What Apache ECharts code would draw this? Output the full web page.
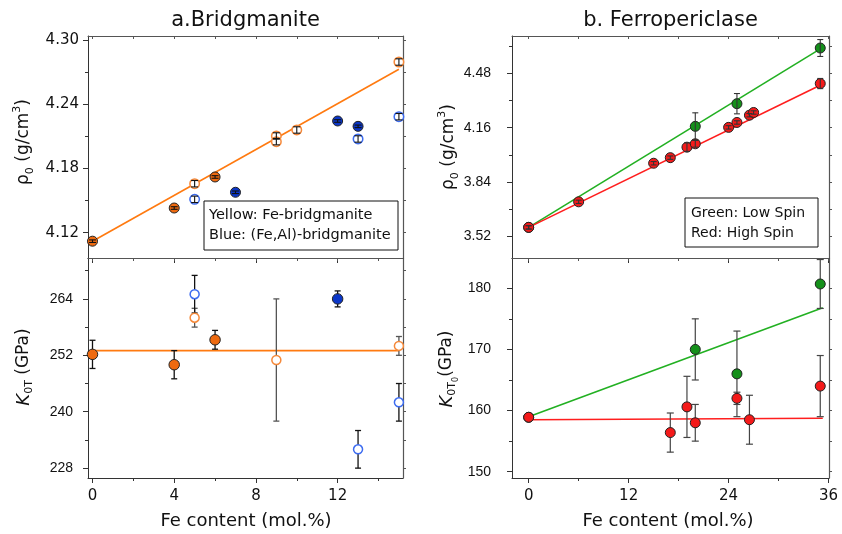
<!DOCTYPE html>
<html><head><meta charset="utf-8">
<script src="https://cdn.jsdelivr.net/npm/echarts@6/dist/echarts.min.js"></script>
<style>html,body{margin:0;padding:0;background:#fff}#c{width:842px;height:534px}</style>
</head><body><div id="c"></div>
<script>
// ================= DATA =================
// a. Bridgmanite : density rho0 (g/cm3)
const bdgFeFilledX = [0, 4, 6];
const bdgFeFilledRho = [4.112, 4.143, 4.172];
const bdgFeFilledRhoErr = [0.0012, 0.0012, 0.0012];
const bdgFeOpenX = [5, 9, 9, 10, 15];
const bdgFeOpenRho = [4.1657, 4.2103, 4.205, 4.2159, 4.2794];
const bdgFeOpenRhoErr = [0.003, 0.003, 0.003, 0.003, 0.003];
const bdgAlFilledX = [7, 12, 13];
const bdgAlFilledRho = [4.1577, 4.2243, 4.2193];
const bdgAlFilledRhoErr = [0.0012, 0.0012, 0.0012];
const bdgAlOpenX = [5, 13, 15];
const bdgAlOpenRho = [4.1511, 4.2075, 4.2283];
const bdgAlOpenRhoErr = [0.003, 0.003, 0.003];
const bdgRhoFit = [[0, 4.112], [15, 4.2726]];
// a. Bridgmanite : K0T (GPa)
const bdgKFeFilledX = [0, 4, 6];
const bdgKFeFilled = [252.2, 250.0, 255.3];
const bdgKFeFilledErr = [3, 3, 2];
const bdgKFeOpenX = [5, 9, 15];
const bdgKFeOpen = [260.0, 251.0, 254.0];
const bdgKFeOpenErr = [2, 13, 2];
const bdgKAlFilledX = [12];
const bdgKAlFilled = [264.0];
const bdgKAlFilledErr = [1.7];
const bdgKAlOpenX = [5, 13, 15];
const bdgKAlOpen = [265.0, 232.0, 242.0];
const bdgKAlOpenErr = [4, 4, 4];
const bdgKFit = [[0, 253], [15, 253]];
// b. Ferropericlase : density rho0 (g/cm3)
const fpRedX = [0, 6, 15, 17, 19, 20, 24, 25, 26.5, 27, 35];
const fpRedRho = [3.571, 3.722, 3.950, 3.983, 4.045, 4.065, 4.162, 4.191, 4.234, 4.250, 4.421];
const fpRedRhoErr = [0.01, 0.01, 0.01, 0.01, 0.025, 0.02, 0.01, 0.01, 0.01, 0.01, 0.03];
const fpGreenX = [0, 20, 25, 35];
const fpGreenRho = [3.571, 4.168, 4.302, 4.631];
const fpGreenRhoErr = [0.01, 0.08, 0.06, 0.05];
const fpGreenRhoFit = [[0, 3.571], [35.3, 4.635]];
const fpRedRhoFit = [[0, 3.571], [35.3, 4.418]];
// b. Ferropericlase : K0T0 (GPa)
const fpRedKX = [0, 17, 19, 20, 25, 26.5, 35];
const fpRedK = [158.9, 156.4, 160.6, 158.0, 162.0, 158.5, 164.0];
const fpRedKErr = [0.5, 3.2, 5, 3, 1, 4, 5];
const fpGreenKX = [0, 20, 25, 35];
const fpGreenK = [158.9, 170.0, 166.0, 180.7];
const fpGreenKErr = [0.5, 5, 7, 4];
const fpGreenKFit = [[0, 159.0], [35.3, 176.8]];
const fpRedKFit = [[0, 158.5], [35.3, 158.75]];
// tick values
const bdgXTicks = [0, 4, 8, 12];
const bdgXMinor = [2, 6, 10, 14];
const bdgRhoTicks = [4.12, 4.18, 4.24, 4.30];
const bdgRhoMinor = [4.15, 4.21, 4.27];
const bdgKTicks = [228, 240, 252, 264];
const bdgKMinor = [234, 246, 258, 270];
const fpXTicks = [0, 12, 24, 36];
const fpXMinor = [6, 18, 30];
const fpRhoTicks = [3.52, 3.84, 4.16, 4.48];
const fpRhoMinor = [3.68, 4.00, 4.32, 4.64];
const fpKTicks = [150, 160, 170, 180];
const fpKMinor = [155, 165, 175];
// texts
const titleA = 'a.Bridgmanite';
const titleB = 'b. Ferropericlase';
const xTitle = 'Fe content (mol.%)';
const legendA = ['Yellow: Fe-bridgmanite', 'Blue: (Fe,Al)-bridgmanite'];
const legendB = ['Green: Low Spin', 'Red: High Spin'];

// ================= BUILD =================
const xAxes = [], yAxes = [];
const AX = '#333', AX2 = '#555';
function addX(grid, min, max, majors, minors, showLabels) {
  const base = {type: 'value', gridIndex: grid, min: min, max: max, scale: true,
    splitLine: {show: false}, axisPointer: {show: false}};
  const idx = xAxes.length;
  xAxes.push(Object.assign({}, base, {position: 'bottom',
    axisLine: {show: true, onZero: false, lineStyle: {color: AX, width: 1}},
    axisTick: {show: true, customValues: majors, length: 5, lineStyle: {color: AX}},
    axisLabel: {show: showLabels, customValues: majors, margin: 11, fontSize: 15,
      fontFamily: 'DejaVu Sans', color: '#111'}}));
  xAxes.push(Object.assign({}, base, {position: 'bottom',
    axisLine: {show: false, onZero: false},
    axisTick: {show: true, customValues: minors, length: 3, lineStyle: {color: AX}},
    axisLabel: {show: false}}));
  xAxes.push(Object.assign({}, base, {position: 'top',
    axisLine: {show: true, onZero: false, lineStyle: {color: AX2, width: 1}},
    axisTick: {show: true, inside: true, customValues: majors.concat(minors), length: 3, lineStyle: {color: AX2}},
    axisLabel: {show: false}}));
  return idx;
}
function addY(grid, min, max, majors, minors, lab) {
  const base = {type: 'value', gridIndex: grid, min: min, max: max, scale: true,
    splitLine: {show: false}, axisPointer: {show: false}};
  const idx = yAxes.length;
  yAxes.push(Object.assign({}, base, {position: 'left',
    axisLine: {show: true, onZero: false, lineStyle: {color: AX, width: 1}},
    axisTick: {show: true, customValues: majors, length: 5, lineStyle: {color: AX}},
    axisLabel: {show: true, customValues: majors, margin: lab.margin, fontSize: lab.size,
      fontFamily: lab.font, color: '#111', formatter: lab.fmt}}));
  yAxes.push(Object.assign({}, base, {position: 'left',
    axisLine: {show: false, onZero: false},
    axisTick: {show: true, customValues: minors, length: 3, lineStyle: {color: AX}},
    axisLabel: {show: false}}));
  yAxes.push(Object.assign({}, base, {position: 'right',
    axisLine: {show: true, onZero: false, lineStyle: {color: AX2, width: 1.2}},
    axisTick: {show: true, customValues: majors.concat(minors), length: 3, lineStyle: {color: AX2}},
    axisLabel: {show: false}}));
  return idx;
}
const f2 = v => Number(v).toFixed(2);
const f0 = v => String(Math.round(v));

const x0 = addX(0, -0.22, 15.2, bdgXTicks, bdgXMinor, false);
const y0 = addY(0, 4.0963, 4.3037, bdgRhoTicks, bdgRhoMinor, {margin: 9, size: 15, font: 'DejaVu Sans', fmt: f2});
const x1 = addX(1, -0.22, 15.2, bdgXTicks, bdgXMinor, true);
const y1 = addY(1, 225.9, 272.7, bdgKTicks, bdgKMinor, {margin: 15, size: 14, font: 'Liberation Sans', fmt: f0});
const x2 = addX(2, -2.0, 36.05, fpXTicks, fpXMinor, false);
const y2 = addY(2, 3.39, 4.702, fpRhoTicks, fpRhoMinor, {margin: 21, size: 14, font: 'Liberation Sans', fmt: f2});
const x3 = addX(3, -2.0, 36.05, fpXTicks, fpXMinor, true);
const y3 = addY(3, 148.97, 184.95, fpKTicks, fpKMinor, {margin: 21, size: 14, font: 'Liberation Sans', fmt: f0});

const series = [];
function pts(xs, ys) { return xs.map((x, i) => [x, ys[i]]); }
function fitLine(data, xi, yi, color) {
  series.push({type: 'line', xAxisIndex: xi, yAxisIndex: yi, data: data, symbol: 'none', silent: true,
    z: 2, lineStyle: {color: color, width: 1.6}});
}
function scatter(xs, ys, xi, yi, fill, border, bw, size, z) {
  series.push({type: 'scatter', xAxisIndex: xi, yAxisIndex: yi, data: pts(xs, ys), symbol: 'circle',
    symbolSize: size, silent: true, z: z,
    itemStyle: {color: fill, borderColor: border, borderWidth: bw, opacity: 1}});
}
function errBars(xs, ys, errs, xi, yi, color, z, cap, lw) {
  series.push({type: 'custom', xAxisIndex: xi, yAxisIndex: yi, silent: true, z: z,
    data: xs.map((x, i) => [x, ys[i] - errs[i], ys[i] + errs[i]]),
    encode: {x: 0, y: [1, 2]},
    renderItem: function (params, api) {
      const lo = api.coord([api.value(0), api.value(1)]);
      const hi = api.coord([api.value(0), api.value(2)]);
      const st = {stroke: color, lineWidth: lw};
      return {type: 'group', children: [
        {type: 'line', shape: {x1: lo[0], y1: lo[1], x2: hi[0], y2: hi[1]}, style: st},
        {type: 'line', shape: {x1: lo[0] - cap, y1: lo[1], x2: lo[0] + cap, y2: lo[1]}, style: st},
        {type: 'line', shape: {x1: hi[0] - cap, y1: hi[1], x2: hi[0] + cap, y2: hi[1]}, style: st}
      ]};
    }});
}
const ORF = '#EE6A10', ORO = '#F5893A', BLF = '#0B36C8', BLO = '#3D6CF0', ORL = '#FF7A10';
const RED = '#F41A1A', GRN = '#14901A', REDL = '#FF1E1E', GRNL = '#22B022';

// panel a - rho
fitLine(bdgRhoFit, x0, y0, ORL);
scatter(bdgFeFilledX, bdgFeFilledRho, x0, y0, ORF, '#222', 1, 10, 4);
scatter(bdgFeOpenX, bdgFeOpenRho, x0, y0, '#fff', ORO, 1.5, 9.5, 4);
scatter(bdgAlFilledX, bdgAlFilledRho, x0, y0, BLF, '#222', 1, 10, 4);
scatter(bdgAlOpenX, bdgAlOpenRho, x0, y0, '#fff', BLO, 1.5, 9.5, 4);
errBars(bdgFeFilledX, bdgFeFilledRho, bdgFeFilledRhoErr, x0, y0, '#111', 6, 3.5, 1.1);
errBars(bdgFeOpenX, bdgFeOpenRho, bdgFeOpenRhoErr, x0, y0, '#111', 6, 3.5, 1.1);
errBars(bdgAlFilledX, bdgAlFilledRho, bdgAlFilledRhoErr, x0, y0, '#111', 6, 3.5, 1.1);
errBars(bdgAlOpenX, bdgAlOpenRho, bdgAlOpenRhoErr, x0, y0, '#111', 6, 3.5, 1.1);
// panel a - K
fitLine(bdgKFit, x1, y1, ORL);
errBars(bdgKFeFilledX, bdgKFeFilled, bdgKFeFilledErr, x1, y1, '#111', 3, 3, 1.3);
errBars(bdgKFeOpenX, bdgKFeOpen, bdgKFeOpenErr, x1, y1, '#555', 3, 3, 1.3);
errBars(bdgKAlFilledX, bdgKAlFilled, bdgKAlFilledErr, x1, y1, '#111', 3, 3, 1.3);
errBars(bdgKAlOpenX, bdgKAlOpen, bdgKAlOpenErr, x1, y1, '#111', 3, 3, 1.3);
scatter(bdgKFeFilledX, bdgKFeFilled, x1, y1, ORF, '#222', 1, 10.5, 4);
scatter(bdgKFeOpenX, bdgKFeOpen, x1, y1, '#fff', ORO, 1.5, 9, 4);
scatter(bdgKAlFilledX, bdgKAlFilled, x1, y1, BLF, '#222', 1, 10.5, 4);
scatter(bdgKAlOpenX, bdgKAlOpen, x1, y1, '#fff', BLO, 1.5, 9, 4);
// panel b - rho
fitLine(fpGreenRhoFit, x2, y2, GRNL);
fitLine(fpRedRhoFit, x2, y2, REDL);
scatter(fpGreenX, fpGreenRho, x2, y2, GRN, '#222', 1, 10, 4);
scatter(fpRedX, fpRedRho, x2, y2, RED, '#222', 1, 10, 4);
errBars(fpGreenX, fpGreenRho, fpGreenRhoErr, x2, y2, '#333', 6, 3, 1.1);
errBars(fpRedX, fpRedRho, fpRedRhoErr, x2, y2, '#333', 6, 3, 1.1);
// panel b - K
fitLine(fpGreenKFit, x3, y3, GRNL);
fitLine(fpRedKFit, x3, y3, REDL);
errBars(fpGreenKX, fpGreenK, fpGreenKErr, x3, y3, '#444', 3, 3.5, 1.2);
errBars(fpRedKX, fpRedK, fpRedKErr, x3, y3, '#444', 3, 3.5, 1.2);
scatter(fpGreenKX, fpGreenK, x3, y3, GRN, '#222', 1, 10, 4);
scatter(fpRedKX, fpRedK, x3, y3, RED, '#222', 1, 10, 4);

// text elements
const TXT = '#111';
function label(x, y, text, size, rot, rich) {
  const st = {text: text, fill: TXT, fontSize: size, fontFamily: 'DejaVu Sans',
    align: 'center', verticalAlign: 'middle', textAlign: 'center', textVerticalAlign: 'middle'};
  if (rich) st.rich = rich;
  return {type: 'text', x: x, y: y, rotation: rot || 0, z: 20, style: st};
}
const richRho = {
  r: {fontSize: 17, fontFamily: 'DejaVu Sans', lineHeight: 24, verticalAlign: 'middle', fill: TXT},
  s: {fontSize: 11, fontFamily: 'DejaVu Sans', lineHeight: 11, verticalAlign: 'bottom', fill: TXT},
  p: {fontSize: 11, fontFamily: 'DejaVu Sans', lineHeight: 11, verticalAlign: 'top', fill: TXT}
};
const richK = {
  k: {fontSize: 18, fontFamily: 'DejaVu Sans', fontStyle: 'italic', lineHeight: 26, verticalAlign: 'middle', fill: TXT},
  r: {fontSize: 17, fontFamily: 'DejaVu Sans', lineHeight: 26, verticalAlign: 'middle', fill: TXT},
  s: {fontSize: 11, fontFamily: 'DejaVu Sans', lineHeight: 11, verticalAlign: 'bottom', padding: [0, 0, 2, 0], fill: TXT},
  t: {fontSize: 8, fontFamily: 'DejaVu Sans', lineHeight: 8, verticalAlign: 'bottom', fill: TXT}
};
function legendBox(x, y, w, h, lines, size, tx, ty, gap) {
  const g = [{type: 'rect', shape: {x: x, y: y, width: w, height: h}, z: 19,
    style: {fill: '#fff', stroke: '#111', lineWidth: 1}}];
  lines.forEach((t, i) => g.push({type: 'text', x: tx, y: ty + i * gap, z: 20,
    style: {text: t, fill: TXT, fontSize: size, fontFamily: 'DejaVu Sans',
      align: 'left', verticalAlign: 'middle', textAlign: 'left', textVerticalAlign: 'middle'}}));
  return g;
}
const graphic = [
  label(245.5, 21, titleA, 21),
  label(670.5, 21, titleB, 21),
  label(246, 521, xTitle, 18),
  label(668, 521, xTitle, 18),
  label(24, 142, '{r|ρ}{s|0}{r| (g/cm}{p|3}{r|)}', 17, Math.PI / 2, richRho),
  label(24, 367, '{k|K}{s|0T}{r| (GPa)}', 17, Math.PI / 2, richK),
  label(449, 147, '{r|ρ}{s|0}{r| (g/cm}{p|3}{r|)}', 17, Math.PI / 2, richRho),
  label(447, 369, '{k|K}{s|0T}{t|0}{r|(GPa)}', 17, Math.PI / 2, richK)
].concat(legendBox(204, 201, 194, 49, legendA, 14.5, 209, 215.5, 20))
 .concat(legendBox(685, 198, 133, 49, legendB, 14, 691, 213.5, 20));

const option = {
  animation: false,
  backgroundColor: '#fff',
  grid: [
    {left: 88, top: 36, width: 315, height: 222, outerBoundsMode: 'none'},
    {left: 88, top: 258, width: 315, height: 220, outerBoundsMode: 'none'},
    {left: 512, top: 36, width: 317, height: 222, outerBoundsMode: 'none'},
    {left: 512, top: 258, width: 317, height: 220, outerBoundsMode: 'none'}
  ],
  xAxis: xAxes,
  yAxis: yAxes,
  series: series,
  graphic: graphic
};
const chart = echarts.init(document.getElementById('c'), null, {renderer: 'canvas'});
chart.setOption(option);
</script>
</body></html>
